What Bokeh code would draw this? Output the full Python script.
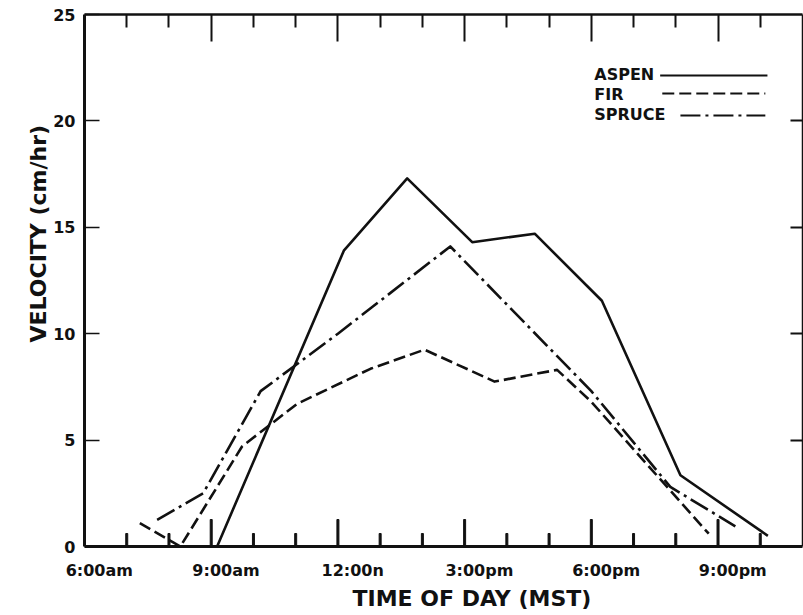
from bokeh.plotting import figure
from bokeh.models import Range1d, LinearAxis, FixedTicker, CustomJSTickFormatter, Title
from bokeh.embed import file_html
from bokeh.resources import INLINE
from bokeh.core.properties import value

# ---------------- data ----------------
aspen_time = [9.14, 12.14, 13.64, 15.18, 16.66, 18.25, 20.11, 22.18]
aspen_vel = [0.0, 13.9, 17.3, 14.3, 14.7, 11.55, 3.35, 0.5]

fir_time = [7.31, 8.27, 9.73, 11.03, 12.77, 14.05, 15.71, 17.19, 18.0, 20.78]
fir_vel = [1.1, 0.0, 4.7, 6.7, 8.35, 9.25, 7.75, 8.3, 6.8, 0.6]

spruce_time = [7.72, 8.81, 10.17, 12.0, 14.66, 18.0, 19.87, 21.41]
spruce_vel = [1.25, 2.5, 7.3, 10.0, 14.1, 7.3, 2.8, 0.95]

series_names = ["ASPEN", "FIR", "SPRUCE"]

x_label_hours = [6, 9, 12, 15, 18, 21]
x_tick_labels = ["6:00am", "9:00am", "12:00n", "3:00pm", "6:00pm", "9:00pm"]
x_major_hours = [9, 12, 15, 18, 21]
x_minor_hours = [7, 8, 10, 11, 13, 14, 16, 17, 19, 20, 22]
y_ticks = [0, 5, 10, 15, 20, 25]

# ---------------- styles / positions ----------------
FONT = "DejaVu Sans"
INK = "#111111"
LABEL_SHIFT = 0.35                  # tick labels sit slightly right of their tick marks
DASHES = ["solid", "12 5", "20 5 3 5"]
FRAME_W_PX, FRAME_H_PX = 718, 532
TICK_LONG = 27 * 25 / FRAME_H_PX    # bottom tick lengths in y units
TICK_SHORT = 13 * 25 / FRAME_H_PX
TICK_W = 2 * 17 / FRAME_W_PX        # bottom tick thickness in x units
legend_text_x = 18.07
legend_text_y = [22.18, 21.24, 20.30]
legend_line_x = [(19.63, 22.17), (19.68, 22.12), (20.11, 22.12)]
legend_line_y = [22.13, 21.29, 20.25]

p = figure(width=803, height=615, x_range=Range1d(6, 23), y_range=Range1d(0, 25),
           output_backend="svg", toolbar_location=None,
           x_axis_location=None, y_axis_location=None,
           min_border_left=84, min_border_right=1, min_border_top=14, min_border_bottom=69)
p.outline_line_color = None
p.grid.visible = False
p.background_fill_color = "white"
p.border_fill_color = "white"


def tick_axis(major, minor, line_w, major_in, minor_in):
    return LinearAxis(ticker=FixedTicker(ticks=major, minor_ticks=minor),
                      formatter=CustomJSTickFormatter(code="return ''"),
                      axis_line_color=INK, axis_line_width=line_w,
                      major_tick_in=major_in, major_tick_out=0,
                      minor_tick_in=minor_in, minor_tick_out=0,
                      major_tick_line_color=INK, minor_tick_line_color=INK,
                      major_tick_line_width=2, minor_tick_line_width=2,
                      major_label_text_font_size="1px", major_label_standoff=0)


# left axis with labels
yax = LinearAxis(ticker=FixedTicker(ticks=y_ticks, minor_ticks=[]),
                 axis_line_color=INK, axis_line_width=3,
                 major_tick_in=15, major_tick_out=0,
                 minor_tick_in=0, minor_tick_out=0,
                 major_tick_line_color=INK, major_tick_line_width=1.5,
                 major_label_standoff=9,
                 major_label_text_font=FONT, major_label_text_font_size="16px",
                 major_label_text_font_style="bold", major_label_text_color=INK)
p.add_layout(yax, "left")

# right and top frame edges with inward ticks
p.add_layout(tick_axis(y_ticks[1:-1], [], 1.5, 12, 0), "right")
p.add_layout(tick_axis(x_major_hours, x_minor_hours, 2.5, 27, 13), "above")

# bottom axis: rule + time labels
lax = LinearAxis(ticker=FixedTicker(ticks=[h + LABEL_SHIFT for h in x_label_hours], minor_ticks=[]),
                 formatter=CustomJSTickFormatter(args=dict(labels=x_tick_labels), code="return labels[index]"),
                 axis_line_color=INK, axis_line_width=3,
                 major_tick_line_color=None, minor_tick_line_color=None,
                 major_tick_in=0, major_tick_out=0, minor_tick_in=0, minor_tick_out=0,
                 major_label_standoff=14,
                 major_label_text_font=FONT, major_label_text_font_size="16px",
                 major_label_text_font_style="bold", major_label_text_color=INK)
p.add_layout(lax, "below")

# bottom inward tick marks: long every 3 hours, short every hour
p.vbar(x=x_major_hours, width=TICK_W, bottom=0, top=TICK_LONG, color=INK)
p.vbar(x=x_minor_hours, width=TICK_W, bottom=0, top=TICK_SHORT, color=INK)

# axis titles
xt = Title(text="TIME OF DAY (MST)", align="left", offset=268, standoff=3,
           text_font=FONT, text_font_size="22px", text_font_style="bold", text_color=INK)
p.add_layout(xt, "below")
yt = Title(text="VELOCITY (cm/hr)", align="left", offset=204, standoff=0,
           text_font=FONT, text_font_size="22px", text_font_style="bold", text_color=INK)
p.add_layout(yt, "left")

# series
series = [(aspen_time, aspen_vel), (fir_time, fir_vel), (spruce_time, spruce_vel)]
for (t, v), dash in zip(series, DASHES):
    p.line(t, v, line_color=INK, line_width=2.6, line_dash=dash, line_join="round")

# legend (label first, sample line after, as in the original)
p.text(x=[legend_text_x] * 3, y=legend_text_y, text=series_names,
       text_font=value(FONT), text_font_size="16px", text_font_style="bold",
       text_color=INK, text_baseline="middle", text_align="left")
for (x0, x1), ly, dash in zip(legend_line_x, legend_line_y, DASHES):
    p.line([x0, x1], [ly, ly], line_color=INK, line_width=2, line_dash=dash)

open("out.html", "w").write(file_html(p, INLINE))
